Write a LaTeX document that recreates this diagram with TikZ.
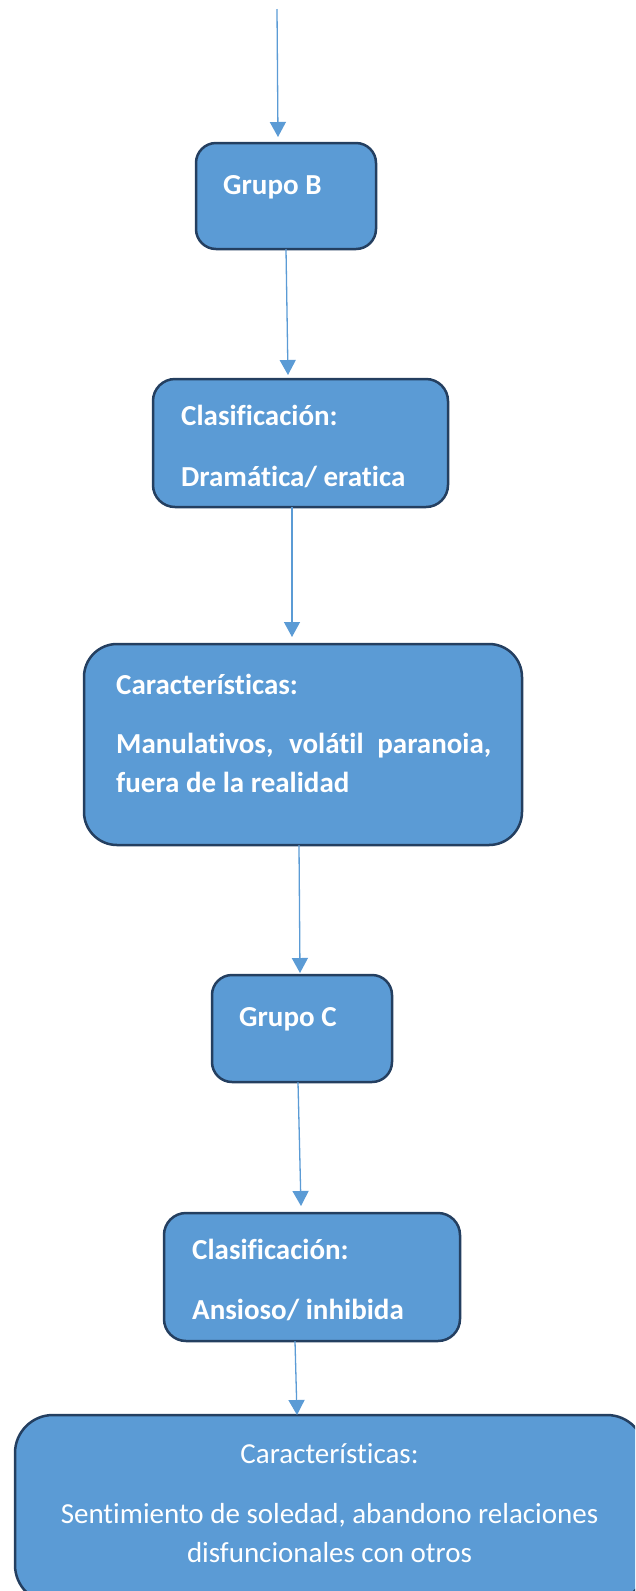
\documentclass[tikz,border=0pt]{standalone}
\usepackage{fontspec}
\setmainfont{Carlito}[Ligatures={NoCommon,NoRare,NoDiscretionary}]
\usetikzlibrary{arrows.meta,calc}
\definecolor{boxfill}{HTML}{5B9BD5}
\definecolor{boxline}{HTML}{243F60}
\definecolor{arrowc}{HTML}{5B9BD5}
\tikzset{
  box/.style={rectangle, draw=boxline, fill=boxfill, line width=2.5pt, inner sep=0pt, outer sep=0pt},
  arr/.style={draw=arrowc, line width=1.3pt, -{Triangle[width=16pt,length=15pt]}},
  txt/.style={anchor=base west, inner sep=0pt, text=white, font=\fontsize{29pt}{39pt}\selectfont\bfseries},
  txtc/.style={anchor=base, inner sep=0pt, text=white, font=\fontsize{29pt}{39pt}\selectfont}
}
\begin{document}
\begin{tikzpicture}[x=1pt,y=-1pt]
\useasboundingbox (0,0) rectangle (635,1591);
\clip (0,0) rectangle (635,1591);
% boxes
\node[box, rounded corners=20pt, minimum width=180pt, minimum height=106pt] (B) at (286,196) {};
\node[box, rounded corners=22pt, minimum width=295pt, minimum height=128pt] (C1) at (300.5,443) {};
\node[box, rounded corners=33pt, minimum width=438pt, minimum height=201pt] (K1) at (303,744.5) {};
\node[box, rounded corners=20pt, minimum width=180pt, minimum height=107pt] (G) at (302,1028.5) {};
\node[box, rounded corners=22pt, minimum width=296pt, minimum height=128pt] (C2) at (312,1277) {};
\node[box, rounded corners=38pt, minimum width=630pt, minimum height=188pt] (K2) at (330,1509) {};
% texts
\node[txt] (tB) at (223,194) {Grupo B};
\node[txt] (tC1a) at (181,425) {Clasificación:};
\node[txt] (tC1b) at (181,486) {Dramática/ eratica};
\node[txt] (tK1a) at (116,694) {Características:};
\node[txt] (tK1b) at (116,753) {\makebox[375pt][s]{Manulativos, volátil paranoia,}};
\node[txt] (tK1c) at (116,792) {fuera de la realidad};
\node[txt] (tG) at (239,1026) {Grupo C};
\node[txt] (tC2a) at (192,1259) {Clasificación:};
\node[txt] (tC2b) at (192,1319) {Ansioso/ inhibida};
\node[txtc] (tK2a) at (329.5,1463) {Características:};
\node[txtc] (tK2b) at (329.5,1523) {Sentimiento de soledad, abandono relaciones};
\node[txtc] (tK2c) at (329.5,1562) {disfuncionales con otros};
% connectors
\coordinate (start) at (277,9);
\draw[arr] (start) -- ($(B.north)+(-8,-6)$);
\draw[arr] (B.south) -- ($(C1.north)+(-12.5,-4)$);
\draw[arr] ($(C1.south)+(-8.5,0)$) -- ($(K1.north)+(-11,-7)$);
\draw[arr] ($(K1.south)+(-4,0)$) -- ($(G.north)+(-2,-2)$);
\draw[arr] ($(G.south)+(-4,0)$) -- ($(C2.north)+(-11,-7)$);
\draw[arr] ($(C2.south)+(-17,0)$) -- ($(K2.north)+(-33,0)$);
\end{tikzpicture}
\end{document}
